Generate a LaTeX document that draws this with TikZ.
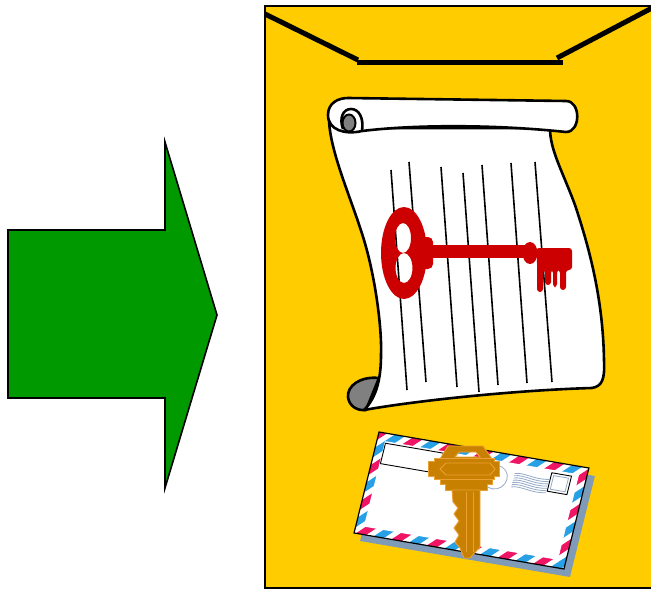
\documentclass[tikz,border=0pt]{standalone}
\usetikzlibrary{calc}
\definecolor{folder}{RGB}{255,204,0}
\definecolor{arrowgreen}{RGB}{0,153,0}
\definecolor{keyred}{RGB}{204,0,0}
\definecolor{curlgray}{RGB}{128,128,128}
\definecolor{shadowblue}{RGB}{128,155,184}
\definecolor{mailred}{RGB}{240,20,100}
\definecolor{mailblue}{RGB}{40,160,230}
\definecolor{postal}{RGB}{150,170,200}
\definecolor{gold}{RGB}{200,128,0}
\definecolor{goldlight}{RGB}{236,160,50}
\tikzset{
  outline/.style={draw=black, line width=1.6pt, line join=miter},
  scrollline/.style={draw=black, line width=2.6pt, line join=round},
  textline/.style={draw=black, line width=1.6pt},
  flapline/.style={draw=black, line width=5pt},
  redkey/.style={fill=keyred, draw=none},
  goldkey/.style={fill=gold, draw=goldlight, line width=0.9pt, line join=miter},
  stripered/.style={draw=mailred, line width=7pt},
  stripeblue/.style={draw=mailblue, line width=7pt},
  thinbox/.style={draw=black, line width=0.9pt},
  postmark/.style={draw=postal, line width=0.8pt},
  envframe/.style={x={(0.9855pt,-0.169pt)}, y={(-0.240pt,-0.971pt)}},
}
% a quadrilateral in the current (possibly skewed) frame
\newcommand{\quadbox}[4]{(#1,#2) -- (#3,#2) -- (#3,#4) -- (#1,#4) -- cycle}
\begin{document}
\begin{tikzpicture}[x=1pt,y=-1pt]
\useasboundingbox (0,0) rectangle (651,589);

% green arrow
\filldraw[fill=arrowgreen, outline] (8,230) -- (165,230) -- (165,142) -- (217,315)
  -- (165,488) -- (165,398) -- (8,398) -- cycle;

% yellow folder
\filldraw[fill=folder, draw=black, line width=2pt] (265,6) rectangle (653,588);
\draw[flapline] (265,14) -- (358,60);
\draw[flapline] (357,62) -- (563,62);
\draw[flapline] (557,58) -- (652,8);

% scroll: lower curl
\filldraw[fill=curlgray, scrollline] (379,378) .. controls (360,376) and (347,386) .. (348,397)
  .. controls (349,406) and (357,411) .. (366,410) -- cycle;

% scroll: sheet
\filldraw[fill=white, scrollline] (329,118) .. controls (329,150) and (352,200) .. (364,240)
  .. controls (376,280) and (382,330) .. (381,355)
  .. controls (381,380) and (376,398) .. (364,410)
  .. controls (420,400) and (520,390) .. (592,388)
  .. controls (602,386) and (605,380) .. (604,360)
  .. controls (603,300) and (590,250) .. (575,205)
  .. controls (562,170) and (550,150) .. (550,128) -- (355,128) -- cycle;

% scroll: upper roll
\filldraw[fill=white, scrollline] (348,98) -- (566,101)
  .. controls (581,101) and (581,132) .. (566,132)
  .. controls (500,125) and (420,124) .. (362,131)
  .. controls (345,135) and (328,130) .. (328,115)
  .. controls (328,103) and (338,98) .. (348,98) -- cycle;
\filldraw[fill=curlgray, draw=black, line width=2pt] (349,123) ellipse [x radius=6.5, y radius=8.5];
\draw[scrollline] (362,131) .. controls (364,118) and (359,109) .. (351,109)
  .. controls (343,109) and (339,118) .. (343,129);

% writing lines
\draw[textline] (391,170) -- (407,390);
\draw[textline] (409,162) -- (426,382);
\draw[textline] (441,167) -- (457,387);
\draw[textline] (463,173) -- (479,392);
\draw[textline] (482,165) -- (498,385);
\draw[textline] (511,163) -- (527,383);
\draw[textline] (535,162) -- (552,382);

% red key
\fill[redkey, even odd rule] (404,253) ellipse [x radius=23, y radius=46]
  (403,238) ellipse [x radius=8, y radius=15]
  (404,268) ellipse [x radius=8.5, y radius=15];
\fill[redkey, rounded corners=5pt] (419,237) rectangle (433,269);
\fill[redkey] (430,245) rectangle (526,258);
\fill[redkey] (530,253) ellipse [x radius=7.5, y radius=11];
\fill[redkey, rounded corners=3pt] (536,248) -- (572,248) -- (572,270) -- (566,270)
  -- (566,290) -- (560,290) -- (560,270) -- (557,270) -- (557,287) -- (553,287)
  -- (553,270) -- (551,270) -- (551,285) -- (545,285) -- (545,270) -- (543,270)
  -- (543,292) -- (537,292) -- (537,260) -- cycle;

% envelope shadow
\begin{scope}[shift={(385,440)}, envframe]
  \fill[shadowblue] \quadbox{0}{0}{213}{104};
\end{scope}

% envelope
\begin{scope}[shift={(379,432)}, envframe]
  \fill[white] \quadbox{0}{0}{213}{104};
  \begin{scope}
    \clip \quadbox{0}{0}{213}{104};
    \foreach \t in {-100,-64,...,340} {
      \draw[stripered] (\t,-5) -- ++(-115,115);
      \draw[stripeblue] (\t+18,-5) -- ++(-115,115);
    }
  \end{scope}
  \fill[white] \quadbox{8}{8}{205}{96};
  \draw[thinbox] \quadbox{9}{10}{74}{31};
  \draw[postmark] (124,25) circle [radius=12];
  \foreach \k in {0,...,6}
    \draw[postmark] (142,18+2.3*\k) .. controls (152,15+2.3*\k) and (162,21+2.3*\k) .. (177,18+2.3*\k);
  \filldraw[fill=white, thinbox] \quadbox{178}{11}{198}{30};
  \draw[postmark] \quadbox{180.5}{13.5}{195.5}{27.5};
  \draw[draw=black, line width=1.2pt] \quadbox{0}{0}{213}{104};
\end{scope}

% gold key
\filldraw[goldkey, even odd rule] (448,446) -- (483,446) -- (492,459) -- (440,459) -- cycle
  (459,452) -- (476,452) -- (480,457) -- (455,457) -- cycle;
\filldraw[goldkey] (434,458) -- (494,458) -- (494,461) -- (499,461) -- (499,476)
  -- (494,476) -- (494,479) -- (434,479) -- (434,476) -- (428,476) -- (428,461)
  -- (434,461) -- cycle;
\filldraw[goldkey] (440,479) -- (492,479) -- (492,484) -- (487,484) -- (487,490)
  -- (445,490) -- (445,484) -- (440,484) -- cycle;
\filldraw[goldkey] (452,490) -- (480,490) -- (480,547) -- (470,558) -- (464,558)
  -- (460,548) -- (455,542) -- (459,535) -- (454,528) -- (459,521) -- (454,514)
  -- (458,508) -- (453,502) -- cycle;
\draw[goldlight, line width=0.9pt] (440,469) -- (446,463) -- (490,463) -- (495,469)
  -- (490,475) -- (446,475) -- cycle;
\draw[goldlight, line width=0.9pt] (466,492) -- (466,552);
\draw[goldlight, line width=0.9pt] (473,492) -- (473,552);
\end{tikzpicture}
\end{document}
